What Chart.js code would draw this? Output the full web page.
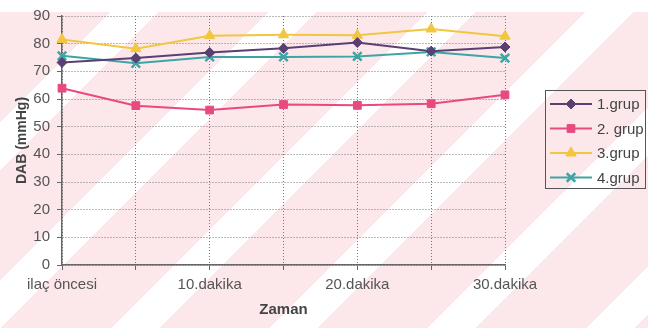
<!DOCTYPE html>
<html>
<head>
<meta charset="utf-8">
<script src="https://cdn.jsdelivr.net/npm/chart.js@4/dist/chart.umd.min.js"></script>
<style>
    html, body { margin: 0; padding: 0; background: #ffffff; }
    #wrap { position: relative; width: 648px; height: 328px; }
    /* pembe çizgili zemin */
    #zemin {
        position: absolute; left: 0; top: 12px; width: 648px; height: 316px;
        background: repeating-linear-gradient(135deg, #fce8eb 0px, #fce8eb 78px, #ffffff 78px, #ffffff 112px);
    }
    #grafik { position: absolute; left: 0; top: 0; }
</style>
</head>
<body>
<div id="wrap">
    <div id="zemin"></div>
    <canvas id="grafik" width="648" height="328"></canvas>
</div>
<script>
// zaman noktaları (etiketler iki noktada bir yazılıyor)
let zaman = ['ilaç öncesi', '5.dakika', '10.dakika', '15.dakika', '20.dakika', '25.dakika', '30.dakika'];
let yEtiketleri = [0, 10, 20, 30, 40, 50, 60, 70, 80, 90];

/*** DAB değerleri (mmHg) ***/
let grup1 = [73.2, 74.8, 76.8, 78.3, 80.4, 77.3, 78.8];
let grup2 = [63.9, 57.6, 56.0, 58.0, 57.7, 58.3, 61.5];
let grup3 = [81.5, 78.2, 82.9, 83.2, 83.0, 85.3, 82.7];
let grup4 = [75.6, 72.9, 75.2, 75.2, 75.4, 77.0, 74.8];

let gruplar = ['1.grup', '2. grup', '3.grup', '4.grup'];
let renkler = ['#5b3f73', '#e84a7f', '#f3c63f', '#3fa5a4'];
let isaretler = ['rectRot', 'rect', 'triangle', 'crossRot'];
let boyutlar = [5, 5.5, 6, 6];

let yazi = '"Liberation Sans", Arial, sans-serif';

function seri(i, veri) {
    return {
        label: gruplar[i],
        data: veri,
        borderColor: renkler[i],
        backgroundColor: renkler[i],
        pointBackgroundColor: renkler[i],
        pointBorderColor: renkler[i],
        pointStyle: isaretler[i],
        pointRadius: boyutlar[i],
        pointBorderWidth: i == 3 ? 2.5 : 1,
        borderWidth: 2,
        tension: 0
    };
}

// sağdaki kutulu açıklama
const aciklama = {
    id: 'aciklama',
    afterDraw(chart) {
        let ctx = chart.ctx;
        let x0 = 545, y0 = 90, w = 100, h = 98;
        ctx.save();
        ctx.strokeStyle = '#555';
        ctx.lineWidth = 1;
        ctx.strokeRect(x0 + 0.5, y0 + 0.5, w, h);
        chart.data.datasets.forEach(function (ds, i) {
            let y = 104 + i * 24.5;
            ctx.strokeStyle = ds.borderColor;
            ctx.lineWidth = 2;
            ctx.beginPath();
            ctx.moveTo(550, y);
            ctx.lineTo(592, y);
            ctx.stroke();
            ctx.fillStyle = ds.pointBackgroundColor;
            ctx.strokeStyle = ds.pointBorderColor;
            ctx.lineWidth = ds.pointBorderWidth;
            Chart.helpers.drawPoint(ctx, {
                pointStyle: ds.pointStyle,
                radius: ds.pointRadius,
                borderWidth: ds.pointBorderWidth
            }, 571, y);
            ctx.fillStyle = '#444';
            ctx.font = '15px ' + yazi;
            ctx.textAlign = 'left';
            ctx.textBaseline = 'middle';
            ctx.fillText(ds.label, 597, y + 1);
        });
        ctx.restore();
    }
};

let izgara = {
    color: '#777',
    lineWidth: 1,
    tickLength: 5,
    tickColor: '#666',
    tickBorderDash: []
};

let ctx = document.getElementById('grafik').getContext('2d');
let grafik = new Chart(ctx, {
    type: 'line',
    data: {
        labels: zaman,
        datasets: [seri(0, grup1), seri(1, grup2), seri(2, grup3), seri(3, grup4)]
    },
    plugins: [aciklama],
    options: {
        responsive: false,
        animation: false,
        layout: { padding: { top: 10, right: 143, left: 14, bottom: 0 } },
        plugins: {
            legend: { display: false },
            tooltip: { enabled: false }
        },
        scales: {
            x: {
                offset: false,
                afterFit: function (scale) { scale.height = 63; },
                grid: izgara,
                border: { color: '#666', width: 1.5, dash: [1, 2] },
                ticks: {
                    autoSkip: false,
                    maxRotation: 0,
                    color: '#555',
                    padding: 6,
                    font: { family: yazi, size: 15 },
                    callback: function (v, i) { return i % 2 ? '' : zaman[i]; }
                },
                title: {
                    display: true,
                    text: 'Zaman',
                    color: '#444',
                    padding: { top: 0, bottom: 9 },
                    font: { family: yazi, size: 15, weight: 'bold' }
                }
            },
            y: {
                min: 0,
                max: 90,
                afterFit: function (scale) { scale.width = 48; },
                afterBuildTicks: function (scale) {
                    scale.ticks = yEtiketleri.map(function (v) { return { value: v }; });
                },
                grid: izgara,
                border: { color: '#666', width: 1.5, dash: [1, 2] },
                ticks: {
                    color: '#555',
                    padding: 7,
                    font: { family: yazi, size: 15 }
                },
                title: {
                    display: true,
                    text: 'DAB (mmHg)',
                    color: '#444',
                    padding: { top: 0, bottom: 0 },
                    font: { family: yazi, size: 14, weight: 'bold' }
                }
            }
        }
    }
});
</script>
</body>
</html>
